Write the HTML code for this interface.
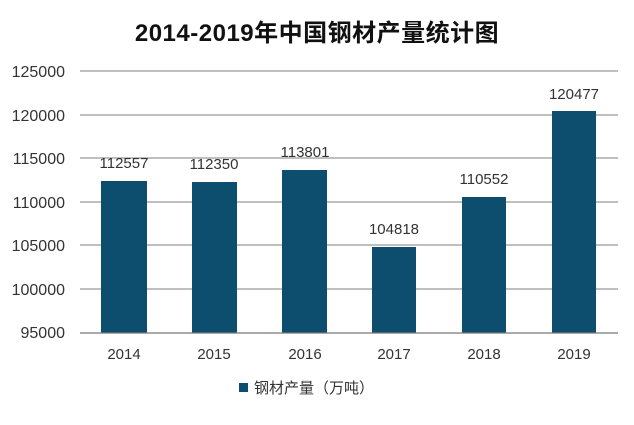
<!DOCTYPE html>
<html><head><meta charset="utf-8"><style>
body{margin:0;background:#fff;}
svg text{font-family:"Liberation Sans","Noto Sans CJK SC",sans-serif;fill:#333;}
</style></head><body>
<svg width="634" height="420" xmlns="http://www.w3.org/2000/svg">
<rect width="634" height="420" fill="#fff"/>
<text x="317" y="41" text-anchor="middle" font-size="24" font-weight="bold" letter-spacing="0.5" style="fill:#111">2014-2019年中国钢材产量统计图</text>
<g stroke="#999" stroke-width="1.3">
<line x1="80" x2="618" y1="71" y2="71"/>
<line x1="80" x2="618" y1="115" y2="115"/>
<line x1="80" x2="618" y1="158" y2="158"/>
<line x1="80" x2="618" y1="202" y2="202"/>
<line x1="80" x2="618" y1="245" y2="245"/>
<line x1="80" x2="618" y1="289" y2="289"/>
</g>
<g font-size="16" text-anchor="end">
<text x="65" y="77">125000</text>
<text x="65" y="121">120000</text>
<text x="65" y="164">115000</text>
<text x="65" y="208">110000</text>
<text x="65" y="251">105000</text>
<text x="65" y="295">100000</text>
<text x="65" y="338">95000</text>
</g>
<g fill="#0d4e6e">
<rect x="101" y="181" width="46" height="152"/>
<rect x="192" y="182" width="45" height="151"/>
<rect x="282" y="170" width="45" height="163"/>
<rect x="372" y="247" width="44" height="86"/>
<rect x="462" y="197" width="44" height="136"/>
<rect x="552" y="111" width="44" height="222"/>
</g>
<line x1="80" x2="618" y1="333" y2="333" stroke="#777" stroke-width="1.3"/>
<g font-size="15" text-anchor="middle">
<text x="124" y="168">112557</text>
<text x="214" y="169">112350</text>
<text x="305" y="157">113801</text>
<text x="394" y="234">104818</text>
<text x="484" y="184">110552</text>
<text x="574" y="99">120477</text>
<text x="124" y="359">2014</text>
<text x="214" y="359">2015</text>
<text x="305" y="359">2016</text>
<text x="394" y="359">2017</text>
<text x="484" y="359">2018</text>
<text x="574" y="359">2019</text>
</g>
<rect x="239" y="383" width="9" height="9" fill="#0d4e6e"/>
<text x="254" y="393" font-size="15">钢材产量（万吨）</text>
</svg>
</body></html>
